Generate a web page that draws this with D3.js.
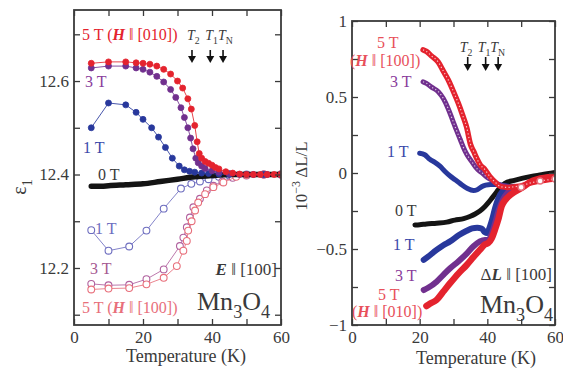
<!DOCTYPE html>
<html>
<head>
<meta charset="utf-8">
<script src="https://cdn.jsdelivr.net/npm/d3@7"></script>
<style>
  html, body { margin: 0; padding: 0; background: #fff; }
  svg { display: block; font-family: "Liberation Serif", "Times New Roman", serif; }
</style>
</head>
<body>
<svg id="chart" width="563" height="369"></svg>
<script>
// ---------- ticks ----------
const tempTicks = [0, 10, 20, 30, 40, 50, 60];
const tempLabels = [0, 20, 40, 60];
const epsTicks = [12.1, 12.2, 12.3, 12.4, 12.5, 12.6, 12.7];
const epsLabels = [12.2, 12.4, 12.6];
const dlTicks = [-1, -0.75, -0.5, -0.25, 0, 0.25, 0.5, 0.75, 1];
const dlLabels = [-1, -0.5, 0, 0.5, 1];
const transitions = [{ sub: '2', T: 34.2 }, { sub: '1', T: 39.5 }, { sub: 'N', T: 43.2 }];

// ---------- left: eps_1 vs T, H || [010] (filled) ----------
const eps5T010 = [[5,12.638],[10,12.641],[15,12.641],[18,12.639],[20,12.638],[22,12.636],[24,12.632],[26,12.625],[28,12.615],[30,12.600],[31.5,12.585],[33,12.562],[34,12.540],[35,12.505],[35.7,12.470],[36.3,12.445],[37,12.435],[38,12.428],[39,12.424],[40,12.420],[41,12.415],[42,12.412],[44,12.406],[46,12.403],[48,12.401],[50,12.400],[52,12.400],[54,12.400],[56,12.400],[58,12.400],[60,12.400]];
const eps3T010 = [[5,12.628],[10,12.632],[15,12.632],[18,12.628],[20,12.625],[22,12.619],[24,12.610],[26,12.598],[28,12.582],[29.5,12.565],[31,12.543],[32,12.522],[33,12.500],[33.8,12.478],[34.5,12.455],[35.3,12.435],[36,12.425],[37,12.418],[38,12.413],[40,12.408],[42,12.405],[45,12.402],[48,12.400],[52,12.400],[56,12.400],[60,12.400]];
const eps1T010 = [[5,12.500],[10,12.553],[15,12.549],[18,12.533],[20,12.518],[22.5,12.500],[24.5,12.480],[26.5,12.458],[28.5,12.435],[30.5,12.418],[32,12.410],[33.5,12.407],[35,12.405],[37,12.403],[39,12.402],[42,12.401],[45,12.400],[50,12.400],[55,12.400],[60,12.400]];
const eps0T = [[5,12.375],[8,12.375],[10,12.376],[15,12.378],[20,12.380],[25,12.385],[30,12.390],[35,12.395],[40,12.398],[45,12.400],[50,12.400],[55,12.400],[60,12.400]];
// ---------- left: H || [100] (open) ----------
const eps1T100 = [[5,12.281],[10,12.237],[16,12.246],[21,12.280],[26,12.327],[31,12.370],[34,12.380],[36.5,12.385],[39,12.390],[42,12.395],[45,12.398],[50,12.400],[55,12.400],[60,12.400]];
const eps3T100 = [[5,12.166],[10,12.163],[16,12.164],[21,12.176],[26,12.197],[30.7,12.247],[31.7,12.265],[32.7,12.287],[33.6,12.308],[34.6,12.330],[36.5,12.348],[38.5,12.366],[40.4,12.376],[43,12.385],[46,12.393],[50,12.398],[55,12.400],[60,12.400]];
const eps5T100 = [[5,12.154],[10,12.156],[16,12.157],[21,12.165],[26,12.179],[29.8,12.204],[31.7,12.237],[32.7,12.258],[33.1,12.280],[34.1,12.300],[35.1,12.323],[36,12.340],[38,12.358],[40.4,12.373],[43.3,12.383],[47,12.395],[50,12.399],[55,12.400],[60,12.400]];

// ---------- right: dL/L (1e-3) vs T, H || [100] (upper) ----------
const dl5T100 = [[21,0.81],[22,0.80],[23.5,0.77],[25.5,0.73],[27,0.67],[28.5,0.61],[30,0.535],[31.4,0.46],[32.7,0.38],[33.9,0.30],[35,0.19],[36,0.14],[37,0.09],[38,0.05],[39,0.03],[40,0.0],[41,-0.03],[42.3,-0.06],[44,-0.09],[46,-0.095],[48,-0.09],[50,-0.085],[52,-0.07],[55,-0.055],[60,-0.04]];
const dl5T100Open = [[50,-0.094],[55.6,-0.053],[60,-0.04]];
const dl3T100 = [[21,0.60],[22,0.59],[23.5,0.565],[25.5,0.535],[27,0.49],[28.4,0.425],[29.7,0.35],[30.9,0.28],[32,0.22],[32.9,0.17],[34,0.12],[35.4,0.075],[36.5,0.04],[37.3,0.02],[38.5,0.0],[40,-0.03],[41.5,-0.05],[43,-0.07],[45,-0.085],[47,-0.09],[50,-0.09]];
const dl1T100 = [[20,0.13],[21.5,0.12],[23,0.09],[24.5,0.07],[26,0.045],[27.5,0.01],[29,-0.02],[30.5,-0.045],[32,-0.07],[34,-0.10],[35.9,-0.115],[37,-0.11],[38.3,-0.09],[39.5,-0.08],[41,-0.075],[43,-0.075],[45,-0.083],[47,-0.09]];
// ---------- right: H || [010] (lower) ----------
const dl0T = [[18.6,-0.342],[20,-0.34],[22,-0.335],[25,-0.33],[28,-0.323],[30.4,-0.31],[33,-0.30],[35,-0.285],[36.4,-0.27],[37.8,-0.25],[39.3,-0.22],[40.3,-0.195],[41.3,-0.167],[42.8,-0.123],[44,-0.09],[45.2,-0.068],[48,-0.048],[50.2,-0.035],[53,-0.022],[56,-0.012],[60,0.003]];
const dl1T010 = [[21.2,-0.572],[22.5,-0.55],[25,-0.506],[27,-0.475],[29,-0.45],[31.5,-0.41],[33.9,-0.38],[35.5,-0.365],[37,-0.36],[38.3,-0.365],[39.3,-0.39],[39.9,-0.395],[40.8,-0.35],[41.5,-0.30],[42.3,-0.23],[43.3,-0.165],[44.5,-0.12],[46,-0.10],[48,-0.09]];
const dl3T010 = [[21.2,-0.77],[22.5,-0.755],[25,-0.715],[27,-0.67],[29,-0.627],[31.5,-0.58],[33.9,-0.53],[36,-0.48],[37.8,-0.45],[39.3,-0.44],[40.3,-0.44],[41.3,-0.40],[42.3,-0.33],[43.3,-0.25],[44.5,-0.18],[46,-0.13],[48,-0.10],[50,-0.09]];
const dl5T010 = [[22,-0.875],[23,-0.86],[25,-0.835],[27,-0.78],[29,-0.725],[31.5,-0.66],[33.9,-0.605],[36,-0.55],[37.8,-0.506],[39.3,-0.47],[40.3,-0.46],[41.3,-0.43],[42.3,-0.37],[43.3,-0.30],[44.2,-0.22],[45.2,-0.18],[46.2,-0.156],[48,-0.125],[49.2,-0.11],[51,-0.085],[52.6,-0.06],[55,-0.04],[57.5,-0.03],[60,-0.02]];

// ---------- colours ----------
const C = {
  red: '#e4232e', purple: '#71308e', blue: '#28389c', black: '#141414',
  open1: '#6d6dbf', open3: '#b0609e', open5: '#e86f7b', text: '#3a3a3a'
};

const svg = d3.select('#chart');

// scales
const xL = d3.scaleLinear().domain([0, 60]).range([74, 281]);
const yL = d3.scaleLinear().domain([12.078, 12.752]).range([325, 10]);
const xR = d3.scaleLinear().domain([0, 60]).range([352, 555]);
const yR = d3.scaleLinear().domain([-1, 1]).range([325, 21]);

function rich(g, x, y, parts, size, color, anchor) {
  const t = g.append('text')
    .attr('x', x).attr('y', y)
    .attr('font-size', size)
    .attr('fill', color)
    .attr('text-anchor', anchor || 'start');
  let shift = 0;
  parts.forEach(([s, st]) => {
    const sp = t.append('tspan').text(s);
    let target = 0;
    if (st === 'sub') { target = size * 0.3; sp.attr('font-size', size * 0.7); }
    if (st === 'sup') { target = -size * 0.4; sp.attr('font-size', size * 0.7); }
    if (st === 'bi') sp.attr('font-weight', 'bold').attr('font-style', 'italic');
    if (st === 'i') sp.attr('font-style', 'italic');
    sp.attr('dy', target - shift);
    shift = target;
  });
  return t;
}

function drawFrame(x, y, yTicks, yLabels, yFmt) {
  const g = svg.append('g');
  const [bx, tx] = x.range();
  const [by, ty] = y.range();
  const styleAxis = sel => {
    sel.attr('font-family', null).attr('font-size', 17);
    sel.select('.domain').remove();
    sel.selectAll('.tick line').attr('stroke', C.text).attr('stroke-width', 1.3);
    sel.selectAll('.tick text').attr('fill', C.text);
  };
  g.append('g').attr('transform', `translate(0,${by})`)
    .call(d3.axisBottom(x).tickValues(tempTicks).tickSizeInner(-6).tickSizeOuter(0).tickPadding(6)
      .tickFormat(d => tempLabels.includes(d) ? d : ''))
    .call(styleAxis);
  g.append('g').attr('transform', `translate(0,${ty})`)
    .call(d3.axisTop(x).tickValues(tempTicks).tickSizeInner(-6).tickSizeOuter(0).tickFormat(''))
    .call(styleAxis);
  g.append('g').attr('transform', `translate(${bx},0)`)
    .call(d3.axisLeft(y).tickValues(yTicks).tickSizeInner(-6).tickSizeOuter(0).tickPadding(5)
      .tickFormat(d => yLabels.some(v => Math.abs(v - d) < 1e-9) ? yFmt(d) : ''))
    .call(styleAxis);
  g.append('g').attr('transform', `translate(${tx},0)`)
    .call(d3.axisRight(y).tickValues(yTicks).tickSizeInner(-6).tickSizeOuter(0).tickFormat(''))
    .call(styleAxis);
  g.append('rect')
    .attr('x', bx).attr('y', ty)
    .attr('width', tx - bx).attr('height', by - ty)
    .attr('fill', 'none').attr('stroke', C.text).attr('stroke-width', 1.8);
}

function clip(id, x, y) {
  svg.append('clipPath').attr('id', id).append('rect')
    .attr('x', x.range()[0]).attr('y', y.range()[1])
    .attr('width', x.range()[1] - x.range()[0]).attr('height', y.range()[0] - y.range()[1]);
}
clip('clipL', xL, yL);
clip('clipR', xR, yR);

// ---------- left panel ----------
const gL = svg.append('g').attr('clip-path', 'url(#clipL)');
const lineL = d3.line().x(d => xL(d[0])).y(d => yL(d[1]));

function markerSeries(data, color, filled) {
  gL.append('path').datum(data)
    .attr('d', lineL).attr('fill', 'none')
    .attr('stroke', color).attr('stroke-width', 1).attr('opacity', 0.85);
  gL.selectAll(null).data(data).enter().append('circle')
    .attr('cx', d => xL(d[0])).attr('cy', d => yL(d[1]))
    .attr('r', filled ? 3 : 3.4)
    .attr('fill', filled ? color : '#fff')
    .attr('stroke', color).attr('stroke-width', filled ? 0.8 : 1.1);
}

markerSeries(eps1T100, C.open1, false);
markerSeries(eps3T100, C.open3, false);
markerSeries(eps5T100, C.open5, false);
gL.append('path').datum(eps0T)
  .attr('d', lineL.curve(d3.curveMonotoneX)).attr('fill', 'none')
  .attr('stroke', C.black).attr('stroke-width', 5.5).attr('stroke-linecap', 'round');
lineL.curve(d3.curveLinear);
markerSeries(eps1T010, C.blue, true);
markerSeries(eps3T010, C.purple, true);
markerSeries(eps5T010, C.red, true);

drawFrame(xL, yL, epsTicks, epsLabels, d3.format('.1f'));

// ---------- right panel ----------
const gR = svg.append('g').attr('clip-path', 'url(#clipR)');
const lineR = d3.line().x(d => xR(d[0])).y(d => yR(d[1])).curve(d3.curveMonotoneX);

function thickSeries(data, color, width, open) {
  gR.append('path').datum(data)
    .attr('d', lineR).attr('fill', 'none')
    .attr('stroke', color).attr('stroke-width', width)
    .attr('stroke-linecap', 'round').attr('stroke-linejoin', 'round');
  if (open) {
    gR.append('path').datum(data)
      .attr('d', lineR).attr('fill', 'none')
      .attr('stroke', '#fff').attr('stroke-width', 1.2)
      .attr('stroke-dasharray', '1.2 2.4').attr('opacity', 0.75);
  }
}

thickSeries(dl0T, C.black, 5, false);
thickSeries(dl1T100, C.blue, 5, false);
thickSeries(dl3T100, C.purple, 5, true);
thickSeries(dl1T010, C.blue, 6, false);
thickSeries(dl3T010, C.purple, 6, false);
thickSeries(dl5T010, C.red, 6.5, false);
thickSeries(dl5T100, C.red, 5.5, true);
gR.selectAll(null).data(dl5T100Open).enter().append('circle')
  .attr('cx', d => xR(d[0])).attr('cy', d => yR(d[1]))
  .attr('r', 3).attr('fill', '#fff').attr('stroke', C.open5).attr('stroke-width', 1.5);

drawFrame(xR, yR, dlTicks, dlLabels, d => d === 0 ? '0' : d3.format('~g')(d));

// ---------- transition arrows ----------
function arrows(x, labelY, top, tip, dx) {
  transitions.forEach(tr => {
    const ax = x(tr.T);
    rich(svg, ax + dx, labelY, [['T', 'i'], [tr.sub, 'sub']], 14, C.text);
    svg.append('line').attr('x1', ax).attr('x2', ax).attr('y1', top).attr('y2', tip - 5)
      .attr('stroke', '#111').attr('stroke-width', 1.6);
    svg.append('path')
      .attr('d', `M${ax - 4},${tip - 7}L${ax + 4},${tip - 7}L${ax},${tip}Z`)
      .attr('fill', '#111');
  });
}
arrows(xL, 40, 50, 63, -5);
arrows(xR, 52, 57, 71, -8);

// ---------- annotations ----------
const mn3o4 = [['Mn'], ['3', 'sub'], ['O'], ['4', 'sub']];
// left
rich(svg, 82, 40, [['5 T ('], ['H', 'bi'], [' ‖ [010])']], 16, C.red);
rich(svg, 85, 87, [['3 T']], 16, '#8a3c9c');
rich(svg, 83, 153, [['1 T']], 16, '#3a48aa');
rich(svg, 98, 180, [['0 T']], 16, C.text);
rich(svg, 95, 234, [['1 T']], 16, C.open1);
rich(svg, 90, 274, [['3 T']], 16, '#a65a92');
rich(svg, 82, 313, [['5 T ('], ['H', 'bi'], [' ‖ [100])']], 16, C.open5);
rich(svg, 277, 275, [['E', 'bi'], [' ‖ [100]']], 17, C.text, 'end');
rich(svg, 197, 310, mn3o4, 26, C.text);
// right
rich(svg, 377, 48, [['5 T']], 16, '#e8505a');
rich(svg, 350, 66, [['('], ['H', 'bi'], [' ‖ [100])']], 16, '#e8505a');
rich(svg, 390, 87, [['3 T']], 16, '#8a3c9c');
rich(svg, 387, 157, [['1 T']], 16, '#3a48aa');
rich(svg, 395, 216, [['0 T']], 16, C.text);
rich(svg, 393, 250, [['1 T']], 16, '#3a48aa');
rich(svg, 395, 281, [['3 T']], 16, '#8a3c9c');
rich(svg, 378, 300, [['5 T']], 16, '#e8505a');
rich(svg, 352, 317, [['('], ['H', 'bi'], [' ‖ [010])']], 16, '#e8505a');
rich(svg, 552, 280, [['Δ'], ['L', 'bi'], [' ‖ [100]']], 17, C.text, 'end');
rich(svg, 553, 313, mn3o4, 26, C.text, 'end');

// ---------- axis titles ----------
rich(svg, 186, 362, [['Temperature (K)']], 18, C.text, 'middle');
rich(svg, 476, 364, [['Temperature (K)']], 18, C.text, 'middle');
rich(svg.append('g').attr('transform', 'translate(26,187) rotate(-90)'), 0, 0,
  [['ε'], ['1', 'sub']], 20, C.text, 'middle');
rich(svg.append('g').attr('transform', 'translate(307,176) rotate(-90)'), 0, 0,
  [['10'], ['−3', 'sup'], [' ΔL/L']], 17, C.text, 'middle');
</script>
</body>
</html>
